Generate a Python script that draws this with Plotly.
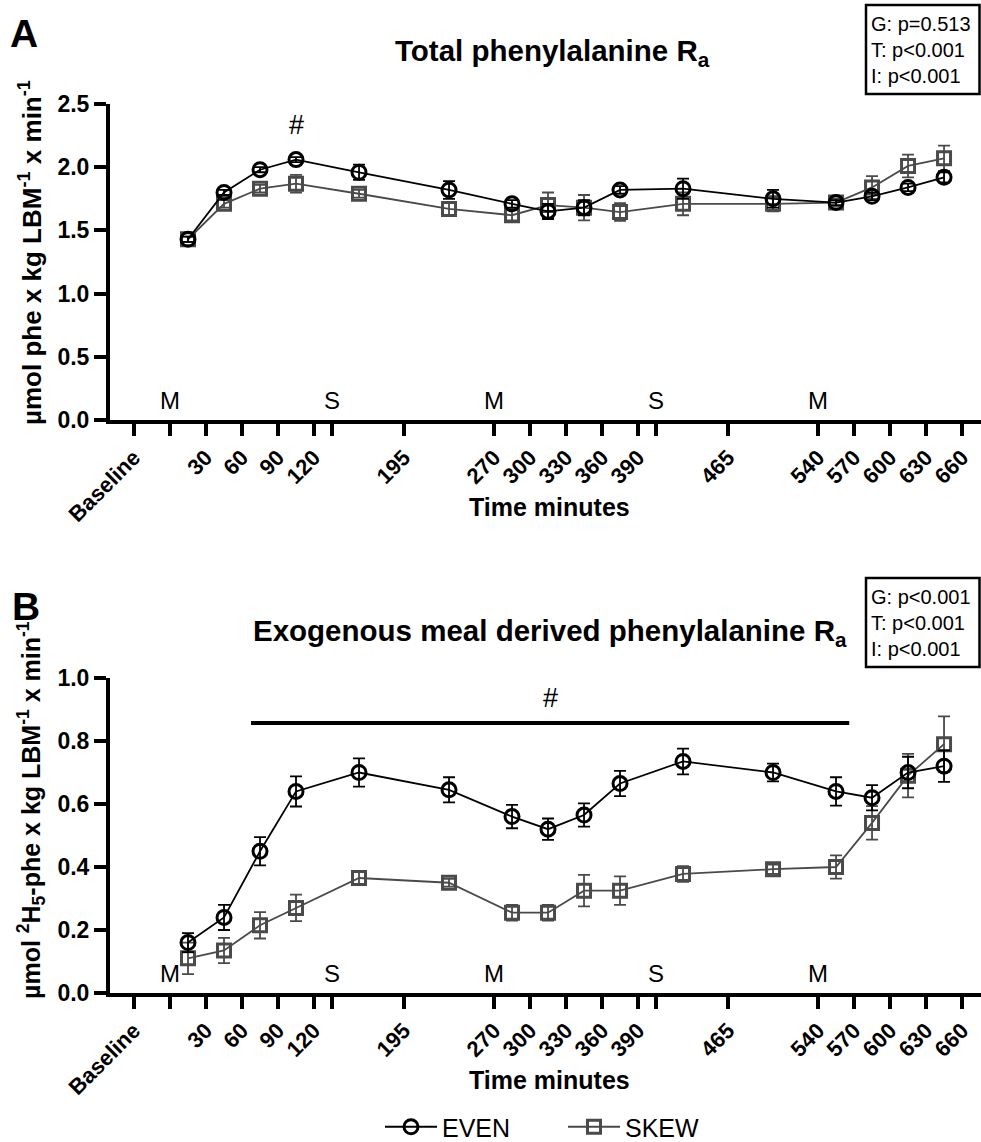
import plotly.graph_objects as go

W, H = 981, 1142

# ---------------- data ----------------
time_min = [15, 45, 75, 105, 157.5, 232.5, 285, 315, 345, 375, 427.5, 502.5, 555, 585, 615, 645]

even_total = [1.43, 1.80, 1.98, 2.06, 1.96, 1.82, 1.71, 1.65, 1.68, 1.82, 1.83, 1.75, 1.72, 1.77, 1.84, 1.92]
even_total_err = [0.02, 0.02, 0.02, 0.02, 0.06, 0.07, 0.03, 0.06, 0.06, 0.03, 0.08, 0.07, 0.02, 0.03, 0.03, 0.04]
skew_total = [1.43, 1.71, 1.83, 1.87, 1.79, 1.67, 1.62, 1.70, 1.68, 1.645, 1.71, 1.71, 1.72, 1.84, 2.01, 2.07]
skew_total_err = [0.02, 0.03, 0.03, 0.07, 0.03, 0.05, 0.04, 0.10, 0.10, 0.07, 0.09, 0.06, 0.03, 0.09, 0.09, 0.10]

even_exo = [0.16, 0.24, 0.45, 0.64, 0.70, 0.645, 0.56, 0.52, 0.565, 0.665, 0.735, 0.70, 0.64, 0.62, 0.70, 0.72]
even_exo_err = [0.03, 0.04, 0.045, 0.048, 0.045, 0.04, 0.037, 0.034, 0.037, 0.04, 0.041, 0.028, 0.045, 0.04, 0.05, 0.05]
skew_exo = [0.11, 0.135, 0.215, 0.27, 0.365, 0.35, 0.255, 0.255, 0.325, 0.325, 0.378, 0.393, 0.40, 0.54, 0.69, 0.79]
skew_exo_err = [0.05, 0.04, 0.042, 0.042, 0.02, 0.012, 0.025, 0.025, 0.05, 0.045, 0.025, 0.015, 0.037, 0.053, 0.069, 0.088]

tick_vals = [-30, 30, 60, 90, 120, 195, 270, 300, 330, 360, 390, 465, 540, 570, 600, 630, 660]
tick_text = ["Baseline", "30", "60", "90", "120", "195", "270", "300", "330", "360", "390",
             "465", "540", "570", "600", "630", "660"]
unlabeled_ticks = [0, 135, 405]
meal_times = [0, 135, 270, 405, 540]
meal_labels = ["M", "S", "M", "S", "M"]

stats_A = ["G: p=0.513", "T: p<0.001", "I: p<0.001"]
stats_B = ["G: p<0.001", "T: p<0.001", "I: p<0.001"]

sig_bar_B = [67.5, 566]
sig_bar_B_y = 0.857

# ---------------- helpers ----------------
FONT = "Liberation Sans"
BLACK = "#000000"
GREY = "#4a4a4a"


def px(xp):
    return xp / W


def py(yp):
    return 1 - yp / H


fig = go.Figure()


def add_series(y, err, xa, ya, name, color, symbol, size, lw, show):
    fig.add_trace(go.Scatter(
        x=time_min, y=y, xaxis=xa, yaxis=ya, name=name, mode="lines+markers",
        line=dict(color=color, width=1.8),
        marker=dict(symbol=symbol, size=size, color=color, line=dict(color=color, width=lw)),
        error_y=dict(type="data", array=err, visible=True, color=color, thickness=1.8, width=6),
        showlegend=show, cliponaxis=False,
    ))


add_series(skew_total, skew_total_err, "x", "y", "SKEW", GREY, "square-open", 13, 3, False)
add_series(even_total, even_total_err, "x", "y", "EVEN", BLACK, "circle-open", 14, 3, False)
add_series(skew_exo, skew_exo_err, "x2", "y2", "SKEW", GREY, "square-open", 13, 3, False)
add_series(even_exo, even_exo_err, "x2", "y2", "EVEN", BLACK, "circle-open", 14, 3, False)

# legend-only traces (ordered EVEN, SKEW)
fig.add_trace(go.Scatter(x=[None], y=[None], xaxis="x2", yaxis="y2", name="EVEN", mode="lines+markers",
                         line=dict(color=BLACK, width=1.8),
                         marker=dict(symbol="circle-open", size=14, color=BLACK, line=dict(width=3))))
fig.add_trace(go.Scatter(x=[None], y=[None], xaxis="x2", yaxis="y2", name="SKEW", mode="lines+markers",
                         line=dict(color=GREY, width=1.8),
                         marker=dict(symbol="square-open", size=13, color=GREY, line=dict(width=3))))

xaxis_common = dict(
    domain=[px(110), 1.0], range=[-50, 675.8],
    tickmode="array", tickvals=tick_vals, ticktext=tick_text, tickangle=-45,
    ticks="outside", ticklen=12, tickwidth=3.5, tickcolor=BLACK,
    minor=dict(tickmode="array", tickvals=unlabeled_ticks, ticks="outside", ticklen=12, tickwidth=3.5,
               tickcolor=BLACK, showgrid=False),
    showline=True, linewidth=4, linecolor=BLACK, showgrid=False, zeroline=False, automargin=False,
    tickfont=dict(family=FONT, size=22, color=BLACK, weight="bold"),
)
yaxis_common = dict(
    ticks="outside", ticklen=12, tickwidth=3.5, tickcolor=BLACK,
    showline=True, linewidth=4, linecolor=BLACK, showgrid=False, zeroline=False, automargin=False,
    tickfont=dict(family=FONT, size=23, color=BLACK, weight="bold"), tickformat=".1f",
)

fig.update_layout(
    width=W, height=H, margin=dict(l=0, r=0, t=0, b=0, autoexpand=False),
    paper_bgcolor="white", plot_bgcolor="white",
    font=dict(family=FONT, color=BLACK),
    xaxis=dict(anchor="y", **xaxis_common),
    yaxis=dict(anchor="x", domain=[py(420), py(104)], range=[0, 2.5], tickvals=[0, 0.5, 1.0, 1.5, 2.0, 2.5],
               **yaxis_common),
    xaxis2=dict(anchor="y2", **xaxis_common),
    yaxis2=dict(anchor="x2", domain=[py(993), py(678)], range=[0, 1.0], tickvals=[0, 0.2, 0.4, 0.6, 0.8, 1.0],
                **yaxis_common),
    legend=dict(orientation="h", x=px(380), y=py(1127), xanchor="left", yanchor="middle",
                font=dict(family=FONT, size=25, color=BLACK), itemwidth=52, bgcolor="rgba(0,0,0,0)",
                entrywidth=116),
    showlegend=True,
)

ann = []
shapes = []

# panel letters
ann.append(dict(text="<b>A</b>", x=px(8), y=py(34), xref="paper", yref="paper", xanchor="left", yanchor="middle",
                showarrow=False, font=dict(size=39, family=FONT)))
ann.append(dict(text="<b>B</b>", x=px(10), y=py(606), xref="paper", yref="paper", xanchor="left", yanchor="middle",
                showarrow=False, font=dict(size=39, family=FONT)))

# titles
ann.append(dict(text="<b>Total phenylalanine R<sub>a</sub></b>", x=px(552), y=py(52), xref="paper", yref="paper",
                xanchor="center", yanchor="middle", showarrow=False, font=dict(size=29.5, family=FONT)))
ann.append(dict(text="<b>Exogenous meal derived phenylalanine R<sub>a</sub></b>", x=px(550), y=py(632),
                xref="paper", yref="paper", xanchor="center", yanchor="middle", showarrow=False,
                font=dict(size=29.5, family=FONT)))

# y-axis titles
ann.append(dict(text="<b>µmol phe x kg LBM<sup>-1</sup> x min<sup>-1</sup></b>", x=px(31), y=py(253),
                xref="paper", yref="paper", xanchor="center", yanchor="middle", textangle=-90, showarrow=False,
                font=dict(size=26, family=FONT)))
ann.append(dict(text="<b>µmol <sup>2</sup>H<sub>5</sub>-phe x kg LBM<sup>-1</sup> x min<sup>-1</sup></b>",
                x=px(31), y=py(810), xref="paper", yref="paper", xanchor="center", yanchor="middle",
                textangle=-90, showarrow=False, font=dict(size=25, family=FONT)))

# x-axis titles
for yc in (507, 1080):
    ann.append(dict(text="<b>Time minutes</b>", x=px(549), y=py(yc), xref="paper", yref="paper",
                    xanchor="center", yanchor="middle", showarrow=False, font=dict(size=25, family=FONT)))

# meal / snack markers
for xa, ya in (("x", "y"), ("x2", "y2")):
    for t, lab in zip(meal_times, meal_labels):
        ann.append(dict(text=lab, x=t, y=0, xref=xa, yref=ya, xanchor="center", yanchor="bottom", yshift=4,
                        showarrow=False, font=dict(size=24, family=FONT)))

# significance marks
ann.append(dict(text="#", x=time_min[3], y=2.33, xref="x", yref="y", xanchor="center", yanchor="middle",
                showarrow=False, font=dict(size=27, family=FONT)))
ann.append(dict(text="#", x=317, y=0.937, xref="x2", yref="y2", xanchor="center", yanchor="middle",
                showarrow=False, font=dict(size=27, family=FONT)))
shapes.append(dict(type="line", xref="x2", yref="y2", x0=sig_bar_B[0], x1=sig_bar_B[1], y0=sig_bar_B_y,
                   y1=sig_bar_B_y, line=dict(color=BLACK, width=4)))

# stat boxes
for (top, bot, lines) in ((5, 94, stats_A), (578, 667, stats_B)):
    shapes.append(dict(type="rect", xref="paper", yref="paper", x0=px(866), x1=px(979.5), y0=py(bot), y1=py(top),
                       line=dict(color=BLACK, width=2.5), fillcolor="white"))
    ann.append(dict(text="<br>".join(lines), x=px(869), y=py((top + bot) / 2), xref="paper", yref="paper",
                    xanchor="left", yanchor="middle", align="left", showarrow=False,
                    font=dict(size=20, family=FONT)))

fig.update_layout(annotations=ann, shapes=shapes)

fig.write_html("out.html", config={"displayModeBar": False},
               post_script="document.body.style.margin='0';document.body.style.overflow='hidden';")
